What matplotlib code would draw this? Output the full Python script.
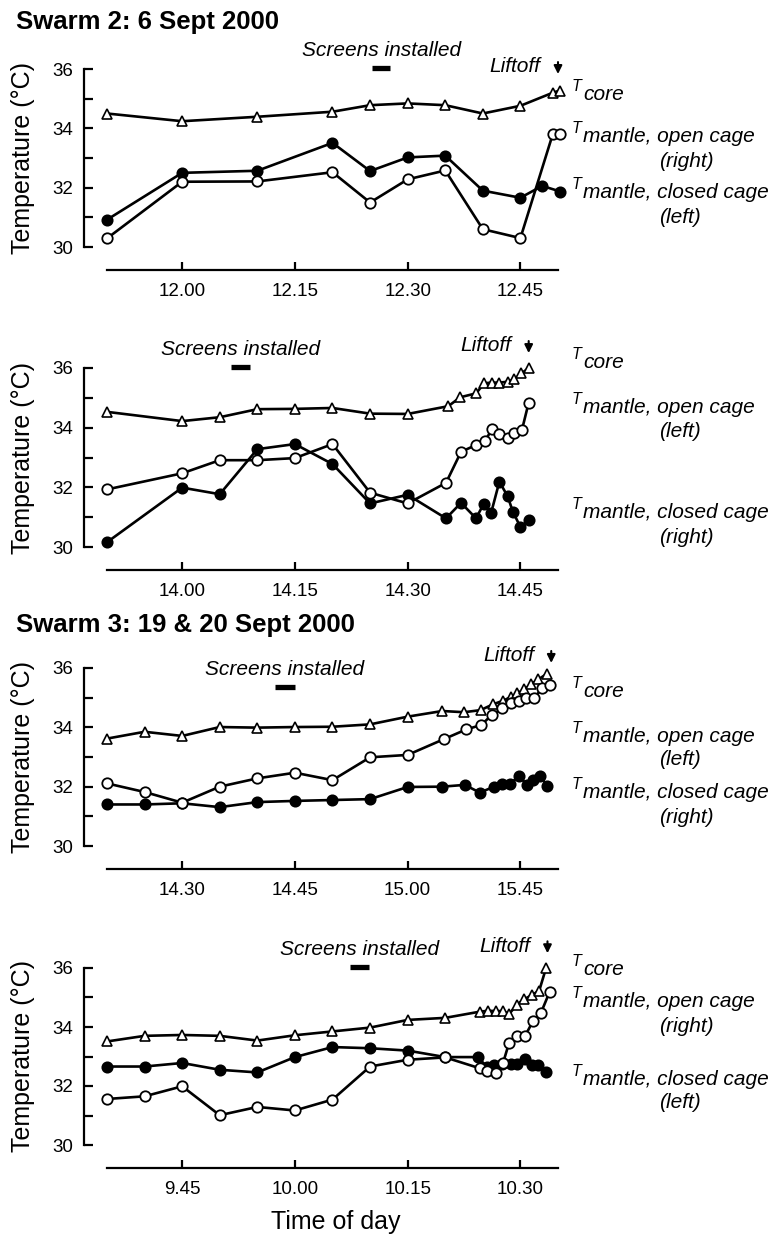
import matplotlib
matplotlib.use("Agg")
import matplotlib.pyplot as plt

plt.rcParams['font.family'] = ['Liberation Sans', 'DejaVu Sans']


def clock(s):
    h, m = s.split(':')
    return int(h) * 60 + float(m)


# ---- Swarm 2, 6 Sept 2000, first cage pair ----
p1_core_t = ["11:50", "12:00", "12:10", "12:20", "12:25", "12:30", "12:35", "12:40", "12:45", "12:49.3", "12:50.2"]
p1_core = [34.50, 34.24, 34.39, 34.56, 34.78, 34.84, 34.78, 34.50, 34.76, 35.20, 35.27]
p1_closed_t = ["11:50", "12:00", "12:10", "12:20", "12:25", "12:30", "12:35", "12:40", "12:45", "12:47.9", "12:50.3"]
p1_closed = [30.92, 32.50, 32.57, 33.51, 32.56, 33.02, 33.08, 31.90, 31.66, 32.06, 31.87]
p1_open_t = ["11:50", "12:00", "12:10", "12:20", "12:25", "12:30", "12:35", "12:40", "12:45", "12:49.3", "12:50.3"]
p1_open = [30.29, 32.20, 32.21, 32.52, 31.50, 32.28, 32.58, 30.60, 30.30, 33.80, 33.80]

# ---- Swarm 2, second cage pair ----
p2_core_t = ["13:50", "14:00", "14:05", "14:10", "14:15", "14:20", "14:25", "14:30", "14:35.4", "14:37",
             "14:39.1", "14:40.2", "14:41.2", "14:42.2", "14:43.3", "14:44.2", "14:45.1", "14:46.1"]
p2_core = [34.53, 34.22, 34.35, 34.62, 34.63, 34.66, 34.47, 34.46, 34.72, 35.02,
           35.15, 35.49, 35.51, 35.51, 35.54, 35.62, 35.82, 35.99]
p2_open_t = ["13:50", "14:00", "14:05", "14:10", "14:15", "14:20", "14:25", "14:30", "14:35.1", "14:37.1",
             "14:39.1", "14:40.3", "14:41.2", "14:42.2", "14:43.3", "14:44.2", "14:45.2", "14:46.1"]
p2_open = [31.93, 32.47, 32.91, 32.91, 32.98, 33.45, 31.82, 31.46, 32.15, 33.19,
           33.42, 33.56, 33.94, 33.79, 33.67, 33.81, 33.92, 34.84]
p2_closed_t = ["13:50", "14:00", "14:05", "14:10", "14:15", "14:20", "14:25", "14:30", "14:35.1", "14:37.1",
               "14:39.1", "14:40.1", "14:41.1", "14:42.2", "14:43.3", "14:44", "14:45", "14:46.1"]
p2_closed = [30.16, 31.99, 31.77, 33.28, 33.45, 32.78, 31.46, 31.75, 30.96, 31.48,
             30.96, 31.44, 31.14, 32.19, 31.70, 31.18, 30.67, 30.90]

# ---- Swarm 3, 19 & 20 Sept 2000, first cage pair ----
p3_core_t = ["14:20", "14:25", "14:30", "14:35", "14:40", "14:45", "14:50", "14:55", "15:00", "15:04.6",
             "15:07.5", "15:09.7", "15:11.3", "15:12.7", "15:13.8", "15:14.6", "15:15.5", "15:16.4", "15:17.4", "15:18.5"]
p3_core = [33.62, 33.85, 33.71, 34.01, 33.99, 34.01, 34.02, 34.10, 34.36, 34.55,
           34.51, 34.58, 34.77, 34.90, 35.03, 35.15, 35.28, 35.45, 35.62, 35.80]
p3_open_t = ["14:20", "14:25", "14:30", "14:35", "14:40", "14:45", "14:50", "14:55", "15:00", "15:04.8",
             "15:07.8", "15:09.8", "15:11.2", "15:12.6", "15:13.8", "15:14.8", "15:15.8", "15:16.8", "15:17.9", "15:18.9"]
p3_open = [32.11, 31.82, 31.46, 32.00, 32.28, 32.47, 32.22, 32.99, 33.07, 33.60,
           33.93, 34.08, 34.42, 34.64, 34.81, 34.90, 34.98, 34.98, 35.32, 35.43]
p3_closed_t = ["14:20", "14:25", "14:30", "14:35", "14:40", "14:45", "14:50", "14:55", "15:00", "15:04.6",
               "15:07.6", "15:09.6", "15:11.5", "15:12.5", "15:13.6", "15:14.8", "15:15.9", "15:16.7", "15:17.6", "15:18.6"]
p3_closed = [31.40, 31.40, 31.44, 31.31, 31.48, 31.52, 31.55, 31.58, 31.99, 32.00,
             32.06, 31.80, 32.00, 32.09, 32.09, 32.36, 32.06, 32.23, 32.36, 32.02]

# ---- Swarm 3, second cage pair ----
p4_core_t = ["9:35", "9:40", "9:45", "9:50", "9:55", "10:00", "10:05", "10:10", "10:15", "10:20",
             "10:24.6", "10:25.7", "10:26.8", "10:27.7", "10:28.5", "10:29.5", "10:30.5", "10:31.5", "10:32.5", "10:33.4"]
p4_core = [33.51, 33.70, 33.73, 33.70, 33.54, 33.72, 33.85, 33.98, 34.24, 34.31,
           34.52, 34.55, 34.54, 34.54, 34.44, 34.75, 34.94, 35.08, 35.23, 35.99]
p4_open_t = ["9:35", "9:40", "9:45", "9:50", "9:55", "10:00", "10:05", "10:10", "10:15", "10:20",
             "10:24.6", "10:25.5", "10:26.7", "10:27.7", "10:28.5", "10:29.5", "10:30.6", "10:31.7", "10:32.7", "10:33.9"]
p4_open = [31.56, 31.65, 31.99, 31.01, 31.29, 31.17, 31.54, 32.66, 32.89, 32.97,
           32.60, 32.52, 32.45, 32.79, 33.47, 33.69, 33.69, 34.21, 34.46, 35.20]
p4_closed_t = ["9:35", "9:40", "9:45", "9:50", "9:55", "10:00", "10:05", "10:10", "10:15", "10:20",
               "10:24.3", "10:25.6", "10:26.5", "10:27.5", "10:28.7", "10:29.6", "10:30.6", "10:31.5", "10:32.4", "10:33.4"]
p4_closed = [32.66, 32.66, 32.78, 32.55, 32.46, 32.98, 33.32, 33.28, 33.20, 32.98,
             32.98, 32.64, 32.70, 32.75, 32.75, 32.73, 32.92, 32.70, 32.70, 32.47]

# x ticks (the figure labels the last tick of swarm 3a as 15.45)
tick_times = [["12:00", "12:15", "12:30", "12:45"],
              ["14:00", "14:15", "14:30", "14:45"],
              ["14:30", "14:45", "15:00", "15:15"],
              ["9:45", "10:00", "10:15", "10:30"]]
tick_labels = [["12.00", "12.15", "12.30", "12.45"],
               ["14.00", "14.15", "14.30", "14.45"],
               ["14.30", "14.45", "15.00", "15.45"],
               ["9.45", "10.00", "10.15", "10.30"]]

screens_start = ["12:25.3", "14:06.5", "14:42.3", "10:07.3"]
screens_end = ["12:27.7", "14:09", "14:45", "10:09.8"]
screens_level = [36.03, 36.03, 35.35, 36.03]
liftoff = ["12:50", "14:46.1", "15:19.1", "10:33.6"]
liftoff_tip = [35.83, 36.50, 36.17, 36.50]

open_side = ["(right)", "(left)", "(left)", "(right)"]
closed_side = ["(left)", "(right)", "(right)", "(left)"]

series = [(p1_core_t, p1_core, p1_closed_t, p1_closed, p1_open_t, p1_open),
          (p2_core_t, p2_core, p2_closed_t, p2_closed, p2_open_t, p2_open),
          (p3_core_t, p3_core, p3_closed_t, p3_closed, p3_open_t, p3_open),
          (p4_core_t, p4_core, p4_closed_t, p4_closed, p4_open_t, p4_open)]

# layout in pixels
W, H = 783, 1235
ax_top = [69, 368, 668, 968]
ax_bot = [247, 547, 846, 1145]
lab_base = [[100, 142, 167, 198, 223],
            [368, 413, 437, 518, 543],
            [697, 742, 765, 798, 823],
            [975, 1007, 1032, 1085, 1108]]


def fx(x):
    return x / W


def fy(y):
    return 1 - y / H


fig = plt.figure(figsize=(7.83, 12.35), dpi=100)

for i in range(4):
    ax = fig.add_axes([fx(107), fy(ax_bot[i]), (558 - 107) / W, (ax_bot[i] - ax_top[i]) / H])
    t0 = clock(tick_times[i][0]) - 10
    ax.set_xlim(t0, t0 + 60)
    ax.set_ylim(30, 36)
    ax.patch.set_visible(False)
    for s in ['top', 'right']:
        ax.spines[s].set_visible(False)
    ax.spines['left'].set_position(('outward', 16.5))
    ax.spines['bottom'].set_position(('outward', 16.2))
    for s in ['left', 'bottom']:
        ax.spines[s].set_linewidth(1.6)
    ax.set_yticks([30, 32, 34, 36])
    ax.set_yticks([31, 33, 35], minor=True)
    ax.tick_params(axis='y', which='both', direction='in', length=6.5, width=1.6,
                   labelsize=13.5, pad=8)
    ax.set_xticks([clock(t) for t in tick_times[i]])
    ax.set_xticklabels(tick_labels[i])
    ax.tick_params(axis='x', direction='in', length=6, width=1.6, labelsize=13.5, pad=10)

    ct, cv, kt, kv, ot, ov = series[i]
    ax.plot([clock(t) for t in ct], cv, color='black', lw=1.9, marker='^', ms=7.5,
            mfc='white', mec='black', mew=1.2, clip_on=False, zorder=3)
    ax.plot([clock(t) for t in kt], kv, color='black', lw=1.9, marker='o', ms=7.5,
            mfc='black', mec='black', mew=1.2, clip_on=False, zorder=4)
    ax.plot([clock(t) for t in ot], ov, color='black', lw=1.9, marker='o', ms=7.5,
            mfc='white', mec='black', mew=1.3, clip_on=False, zorder=5)

    a, b = clock(screens_start[i]), clock(screens_end[i])
    ax.plot([a, b], [screens_level[i]] * 2, color='black', lw=3.8,
            solid_capstyle='butt', clip_on=False)
    ax.annotate('Screens installed', xy=((a + b) / 2, screens_level[i]), xytext=(0, 12.5),
                textcoords='offset points', ha='center', va='center', fontsize=15,
                style='italic', annotation_clip=False)

    tl = clock(liftoff[i])
    tail = liftoff_tip[i] + 12 / 29.7
    ax.annotate('', xy=(tl, liftoff_tip[i]), xytext=(tl, tail),
                arrowprops=dict(arrowstyle='-|>', color='black', lw=1.5,
                                mutation_scale=12, shrinkA=0, shrinkB=0),
                annotation_clip=False)
    ax.annotate('Liftoff', xy=(tl, tail), xytext=(-12.5, -3.5), textcoords='offset points',
                ha='right', va='center', fontsize=15, style='italic', annotation_clip=False)

    # right-hand labels
    lb = lab_base[i]
    for base, word in [(lb[0], 'core'), (lb[1], 'mantle, open cage'), (lb[3], 'mantle, closed cage')]:
        fig.text(fx(572), fy(base - 9), 'T', fontsize=11.5, style='italic', va='baseline')
        fig.text(fx(583), fy(base), word, fontsize=15, style='italic', va='baseline')
    fig.text(fx(659), fy(lb[2]), open_side[i], fontsize=15, style='italic', va='baseline')
    fig.text(fx(659), fy(lb[4]), closed_side[i], fontsize=15, style='italic', va='baseline')

    fig.text(fx(23), fy((ax_top[i] + ax_bot[i]) / 2), 'Temperature (°C)', rotation=90,
             fontsize=18, ha='center', va='center')

fig.text(fx(16), fy(22), 'Swarm 2: 6 Sept 2000', fontsize=18.5, fontweight='bold', va='center')
fig.text(fx(16), fy(625), 'Swarm 3: 19 & 20 Sept 2000', fontsize=18.5, fontweight='bold', va='center')
fig.text(fx(336), fy(1222), 'Time of day', fontsize=18, ha='center', va='center')

fig.savefig('out.png', dpi=100)
